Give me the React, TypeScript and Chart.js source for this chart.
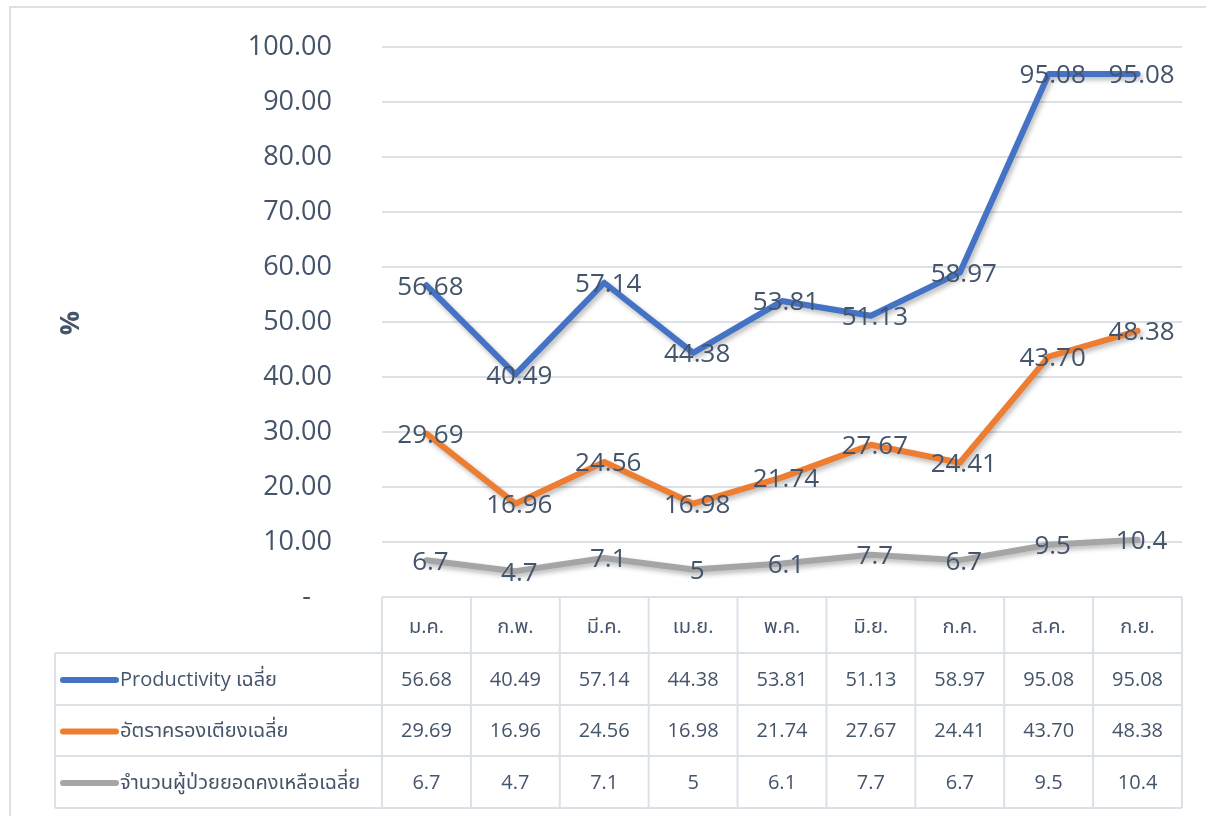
import React, { useEffect, useRef } from "react";
import { Chart, registerables } from "chart.js";

Chart.register(...registerables);

const categories = ["ม.ค.", "ก.พ.", "มี.ค.", "เม.ย.", "พ.ค.", "มิ.ย.", "ก.ค.", "ส.ค.", "ก.ย."];
const productivity = [56.68, 40.49, 57.14, 44.38, 53.81, 51.13, 58.97, 95.08, 95.08];
const bedRate = [29.69, 16.96, 24.56, 16.98, 21.74, 27.67, 24.41, 43.7, 48.38];
const remaining = [6.7, 4.7, 7.1, 5, 6.1, 7.7, 6.7, 9.5, 10.4];
const seriesNames = ["Productivity เฉลี่ย", "อัตราครองเตียงเฉลี่ย", "จำนวนผู้ป่วยยอดคงเหลือเฉลี่ย"];
const seriesColors = ["#4472C4", "#ED7D31", "#A5A5A5"];
const seriesDecimals = [2, 2, -1];
const yTicks = { min: 0, max: 100, step: 10 };
const axisTitle = "%";

const FONT = "'Open Sans', 'Noto Sans', 'Noto Sans Thai', sans-serif";
const TEXT = "#44546A";
const LINE = "#DCE0E7";

function fmt(v: number, d: number) {
  return d < 0 ? String(v) : v.toFixed(d);
}

const tablePlugin = {
  id: "excelTable",
  beforeDatasetDraw(chart: any) {
    const ctx = chart.ctx;
    ctx.save();
    ctx.shadowColor = "rgba(0,0,0,0.28)";
    ctx.shadowBlur = 5;
    ctx.shadowOffsetX = 2;
    ctx.shadowOffsetY = 3;
  },
  afterDatasetDraw(chart: any) {
    chart.ctx.restore();
  },
  afterDatasetsDraw(chart: any) {
    const ctx = chart.ctx;
    ctx.save();
    ctx.font = `26px ${FONT}`;
    ctx.fillStyle = TEXT;
    ctx.textAlign = "center";
    ctx.textBaseline = "middle";
    chart.data.datasets.forEach((ds: any, i: number) => {
      const meta = chart.getDatasetMeta(i);
      meta.data.forEach((pt: any, j: number) => {
        ctx.fillText(fmt(ds.data[j], seriesDecimals[i]), pt.x + 4, pt.y + 2);
      });
    });
    ctx.restore();
  },
  afterDraw(chart: any) {
    const ctx = chart.ctx;
    const area = chart.chartArea;
    const n = categories.length;
    const colW = (area.right - area.left) / n;
    const top = area.bottom;
    const rows = [top, top + 56, top + 108, top + 159, top + 211];
    const legendLeft = 55;
    ctx.save();
    // outer frame
    ctx.strokeStyle = LINE;
    ctx.lineWidth = 2;
    ctx.beginPath();
    ctx.moveTo(10, 830);
    ctx.lineTo(10, 7);
    ctx.lineTo(1230, 7);
    ctx.stroke();

    // table grid
    ctx.strokeStyle = LINE;
    ctx.lineWidth = 2;
    ctx.beginPath();
    ctx.moveTo(area.left, rows[0]);
    ctx.lineTo(area.right, rows[0]);
    for (let r = 1; r < rows.length; r++) {
      ctx.moveTo(legendLeft, rows[r]);
      ctx.lineTo(area.right, rows[r]);
    }
    ctx.moveTo(legendLeft, rows[1]);
    ctx.lineTo(legendLeft, rows[rows.length - 1]);
    for (let c = 0; c <= n; c++) {
      const x = area.left + c * colW;
      ctx.moveTo(x, rows[0]);
      ctx.lineTo(x, rows[rows.length - 1]);
    }
    ctx.stroke();

    ctx.font = `20px ${FONT}`;
    ctx.fillStyle = TEXT;
    ctx.textAlign = "center";
    ctx.textBaseline = "middle";
    categories.forEach((c, j) => {
      ctx.fillText(c, area.left + (j + 0.5) * colW, (rows[0] + rows[1]) / 2 + 2);
    });
    chart.data.datasets.forEach((ds: any, i: number) => {
      const cy = (rows[i + 1] + rows[i + 2]) / 2 + 1;
      ds.data.forEach((v: number, j: number) => {
        ctx.fillText(fmt(v, seriesDecimals[i]), area.left + (j + 0.5) * colW, cy);
      });
      // legend key
      ctx.save();
      ctx.strokeStyle = seriesColors[i];
      ctx.lineWidth = 6;
      ctx.lineCap = "round";
      ctx.beginPath();
      ctx.moveTo(63, cy);
      ctx.lineTo(116, cy);
      ctx.stroke();
      ctx.restore();
      ctx.textAlign = "left";
      ctx.fillText(seriesNames[i], 120, cy);
      ctx.textAlign = "center";
    });

    // axis title
    ctx.save();
    ctx.translate(71, 323);
    ctx.rotate(-Math.PI / 2);
    ctx.font = `bold 27px ${FONT}`;
    ctx.fillStyle = TEXT;
    ctx.textAlign = "center";
    ctx.textBaseline = "middle";
    ctx.fillText(axisTitle, 0, 0);
    ctx.restore();
    ctx.restore();
  },
};

export default function App() {
  const ref = useRef<HTMLCanvasElement | null>(null);
  useEffect(() => {
    if (!ref.current) return;
    const chart = new Chart(ref.current, {
      type: "line",
      data: {
        labels: categories,
        datasets: [productivity, bedRate, remaining].map((d, i) => ({
          label: seriesNames[i],
          data: d,
          borderColor: seriesColors[i],
          backgroundColor: seriesColors[i],
          borderWidth: 6,
          pointRadius: 0,
          tension: 0,
          borderCapStyle: "round" as const,
          borderJoinStyle: "round" as const,
        })),
      },
      options: {
        animation: false,
        responsive: true,
        maintainAspectRatio: false,
        layout: { padding: { top: 47, right: 24, bottom: 219, left: 0 } },
        plugins: { legend: { display: false }, tooltip: { enabled: false } },
        scales: {
          x: { type: "category", display: false, offset: true },
          y: {
            min: yTicks.min,
            max: yTicks.max,
            afterFit: (s: any) => {
              s.width = 382;
            },
            border: { display: false },
            grid: {
              color: LINE,
              lineWidth: 2,
              drawTicks: true,
              tickLength: 50,
              tickColor: "rgba(0,0,0,0)",
            },
            ticks: {
              stepSize: yTicks.step,
              padding: 0,
              color: TEXT,
              font: { family: FONT, size: 27 },
              callback: (v: any) => (Number(v) === 0 ? "-   " : Number(v).toFixed(2)),
            },
          },
        },
      },
      plugins: [tablePlugin],
    });
    return () => chart.destroy();
  }, []);
  return (
    <div style={{ position: "absolute", left: 0, top: 0, width: 1206, height: 816, background: "#fff" }}>
      <canvas ref={ref} />
    </div>
  );
}
